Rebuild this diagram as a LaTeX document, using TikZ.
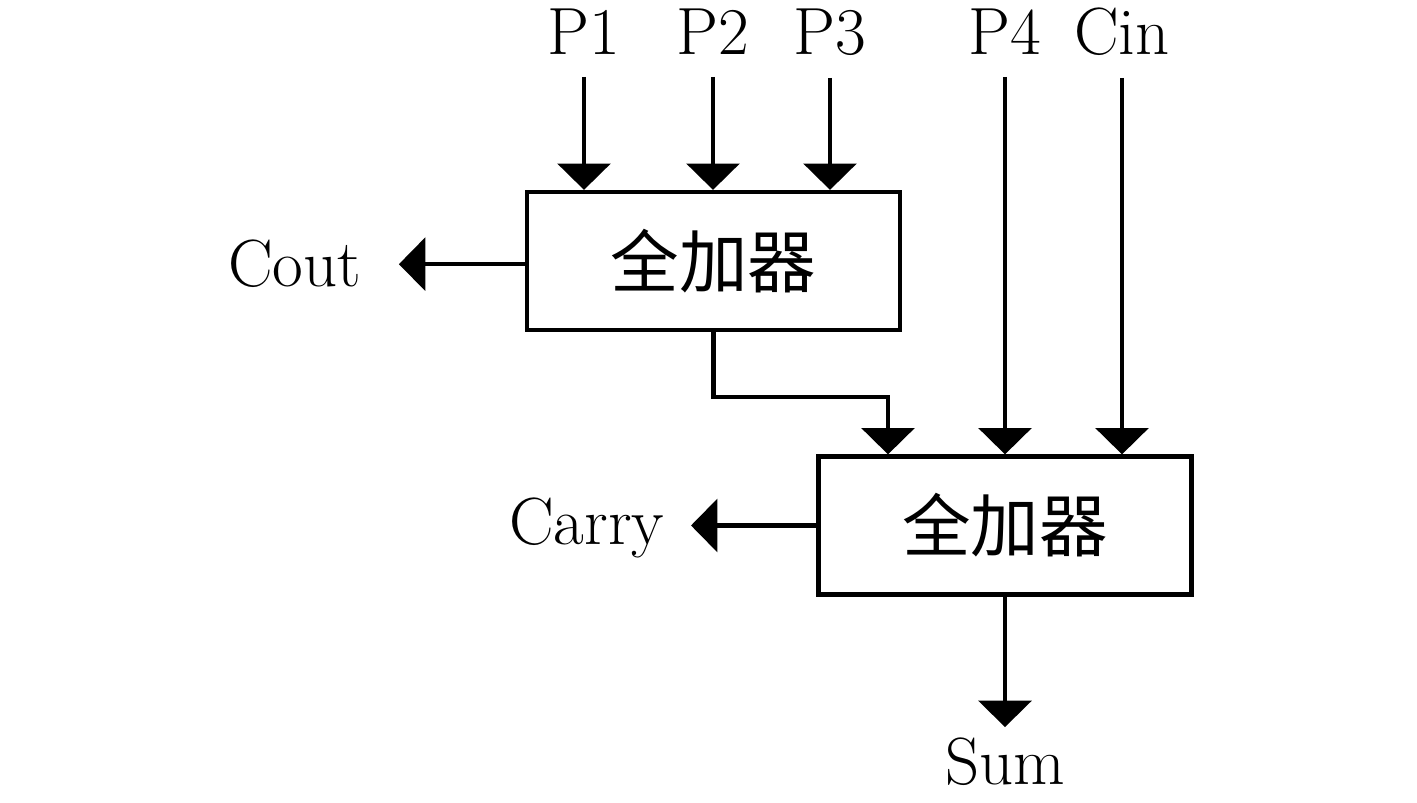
\documentclass[tikz,border=0pt]{standalone}
\usepackage{fontspec}
\newfontfamily\cjk{Noto Sans CJK SC}
\usetikzlibrary{arrows.meta}

\tikzset{
  adder/.style={draw, line width=1.2pt, minimum width=3.73cm, minimum height=1.38cm,
    inner sep=0pt, font=\cjk\fontsize{19.5}{23}\selectfont},
  tag/.style={inner sep=0pt, font=\fontsize{19}{23}\selectfont},
  sig/.style={line width=1.2pt, -{Triangle[length=7.5pt,width=15pt]}},
}

\begin{document}
\begin{tikzpicture}
  \useasboundingbox (0,0) rectangle (14.17,8.03);

  % the two full adders
  \node[adder] (fa1) at (7.135,5.42) {全加器};
  \node[adder] (fa2) at (10.05,2.775) {全加器};

  % input labels along the top
  \foreach \n/\t/\x in {p1/P1/5.84, p2/P2/7.13, p3/P3/8.30, p4/P4/10.05, cin/Cin/11.22}
    \node[tag, anchor=base] (\n) at (\x,7.48) {\t};

  % output labels
  \node[tag, anchor=base east] (cout) at (3.62,5.16) {Cout};
  \node[tag, anchor=base east] (carry) at (6.65,2.58) {Carry};
  \node[tag, anchor=base] (sum) at (10.05,0.18) {Sum};

  % inputs into the first adder
  \foreach \n in {p1,p2,p3}
    \draw[sig] ([yshift=-6pt]\n.south) -- (\n.south |- fa1.north);

  % inputs into the second adder
  \foreach \n in {p4,cin}
    \draw[sig] ([yshift=-6pt]\n.south) -- (\n.south |- fa2.north);

  % sum of the first adder goes on to the second
  \draw[sig] (fa1.south) -- ++(0,-0.65) -| ([xshift=-1.17cm]fa2.north);

  % outputs
  \draw[sig] (fa1.west |- cout.east) -- ([xshift=10.5pt]cout.east);
  \draw[sig] (fa2.west) -- ([xshift=7.4pt]fa2.west -| carry.east);
  \draw[sig] (fa2.south) -- ([yshift=3pt]sum.north);
\end{tikzpicture}
\end{document}
